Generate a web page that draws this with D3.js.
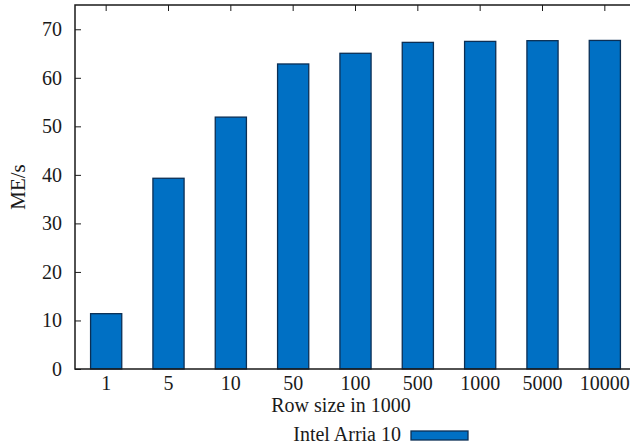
<!DOCTYPE html>
<html>
<head>
<meta charset="utf-8">
<script src="https://cdn.jsdelivr.net/npm/d3@7"></script>
<style>
  html, body { margin: 0; padding: 0; background: #fff; }
  svg { display: block; }
  text { font-family: "Liberation Serif", "DejaVu Serif", serif; fill: #1a1a1a; }
</style>
</head>
<body>
<svg id="chart" width="630" height="447"></svg>
<script>
// Row sizes (in thousands) and measured throughput
const categories = ["1", "5", "10", "50", "100", "500", "1000", "5000", "10000"];
const throughput = [11.4, 39.3, 51.9, 62.85, 65.05, 67.3, 67.5, 67.65, 67.7];
const yTicks = [0, 10, 20, 30, 40, 50, 60, 70];
const seriesName = "Intel Arria 10";
const xTitle = "Row size in 1000";
const yTitle = "ME/s";

const svg = d3.select("#chart");
const plotLeft = 75, plotRight = 636, plotTop = 5, plotBottom = 369;
const fontSize = 20;
const fontFamily = "Liberation Serif";
const axisColor = "#1a1a1a";
const barFill = "#0070c4";
const barStroke = "#0b2f55";

const x = d3.scaleBand()
  .domain(categories)
  .range([plotLeft, plotRight])
  .paddingInner(0.5)
  .paddingOuter(0.25);

const y = d3.scaleLinear().domain([0, 75]).range([plotBottom, plotTop]);

// Bars
svg.append("g")
  .selectAll("rect")
  .data(categories.map((c, i) => ({ c, v: throughput[i] })))
  .join("rect")
  .attr("x", d => x(d.c))
  .attr("y", d => y(d.v))
  .attr("width", x.bandwidth())
  .attr("height", d => y(0) - y(d.v))
  .attr("fill", barFill)
  .attr("stroke", barStroke)
  .attr("stroke-width", 1.3);

// Left axis (ticks inward)
const yAxis = d3.axisLeft(y).tickValues(yTicks).tickSize(-6).tickPadding(13);
const gy = svg.append("g").attr("transform", `translate(${plotLeft},0)`).call(yAxis);
gy.select(".domain").remove();
gy.selectAll("line").attr("stroke", axisColor).attr("stroke-width", 1);
gy.selectAll("text").attr("font-size", fontSize).attr("font-family", fontFamily).attr("fill", "#1a1a1a");

// Right mirror ticks
const gr = svg.append("g").attr("transform", `translate(${plotRight},0)`)
  .call(d3.axisRight(y).tickValues(yTicks).tickSize(-6).tickFormat(""));
gr.select(".domain").remove();
gr.selectAll("line").attr("stroke", axisColor).attr("stroke-width", 1);

// Bottom axis labels
const xAxis = d3.axisBottom(x).tickSize(0).tickPadding(7);
const gx = svg.append("g").attr("transform", `translate(0,${plotBottom})`).call(xAxis);
gx.select(".domain").remove();
gx.selectAll("text").attr("font-size", fontSize).attr("font-family", fontFamily).attr("fill", "#1a1a1a");

// Top mirror ticks
const gt = svg.append("g").attr("transform", `translate(0,${plotTop})`)
  .call(d3.axisTop(x).tickSize(-6).tickFormat(""));
gt.select(".domain").remove();
gt.selectAll("line").attr("stroke", axisColor).attr("stroke-width", 1);

// Frame: left, top, bottom, right
svg.append("path")
  .attr("d", `M${plotLeft},${plotTop}H${plotRight}V${plotBottom}H${plotLeft}Z`)
  .attr("fill", "none")
  .attr("stroke", axisColor)
  .attr("stroke-width", 1.5);

// Axis titles
svg.append("text")
  .attr("transform", `translate(25,187) rotate(-90)`)
  .attr("text-anchor", "middle")
  .attr("font-size", 21)
  .text(yTitle);

svg.append("text")
  .attr("x", 341)
  .attr("y", 412)
  .attr("text-anchor", "middle")
  .attr("font-size", fontSize)
  .text(xTitle);

// Legend
svg.append("text")
  .attr("x", 401)
  .attr("y", 441)
  .attr("text-anchor", "end")
  .attr("font-size", fontSize)
  .text(seriesName);

svg.append("rect")
  .attr("x", 411)
  .attr("y", 431)
  .attr("width", 57)
  .attr("height", 9)
  .attr("fill", barFill)
  .attr("stroke", barStroke)
  .attr("stroke-width", 1.3);
</script>
</body>
</html>
